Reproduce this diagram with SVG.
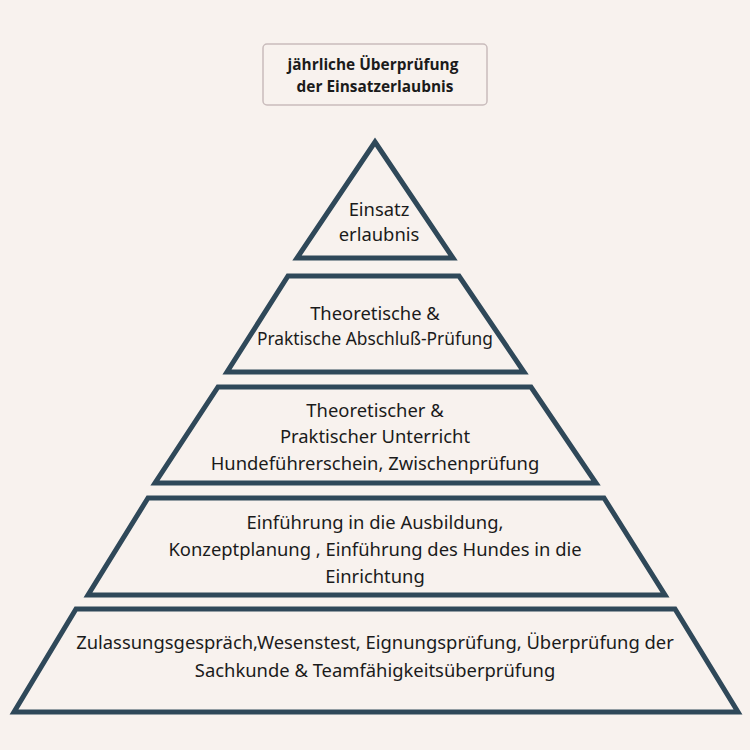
<svg xmlns="http://www.w3.org/2000/svg" width="750" height="750" viewBox="0 0 750 750">
<style>
.bg{fill:#f8f2ee}
.lvl{fill:#f8f2ee;stroke:#2f4859;stroke-width:5;stroke-linejoin:miter}
.t{font-family:"Noto Sans","Liberation Sans",sans-serif;font-size:18.4px;fill:#1b1b1b;text-anchor:middle}
.b{font-family:"Open Sans","Noto Sans",sans-serif;font-size:15.4px;font-weight:bold;fill:#1b1b1b;text-anchor:middle}
.box{fill:#f8f2ee;stroke:#c9bcbc;stroke-width:1.5}
</style>
<rect class="bg" x="0" y="0" width="750" height="750"/>
<g id="note">
<rect class="box" x="263" y="44" width="224" height="61" rx="4"/>
<text class="b" x="373" y="70">jährliche Überprüfung</text>
<text class="b" x="375" y="92">der Einsatzerlaubnis</text>
</g>
<g id="level1">
<polygon class="lvl" points="375,142 453,258 297,258"/>
<text class="t" x="379" y="216">Einsatz</text>
<text class="t" x="379" y="241">erlaubnis</text>
</g>
<g id="level2">
<polygon class="lvl" points="288,276 459,276 524,372 227,372"/>
<text class="t" x="375" y="320">Theoretische &amp;</text>
<text class="t" x="375" y="345" textLength="236" lengthAdjust="spacingAndGlyphs">Praktische Abschluß-Prüfung</text>
</g>
<g id="level3">
<polygon class="lvl" points="218,387 531,387 596,483 155,483"/>
<text class="t" x="375" y="417">Theoretischer &amp;</text>
<text class="t" x="375" y="443">Praktischer Unterricht</text>
<text class="t" x="375" y="470">Hundeführerschein, Zwischenprüfung</text>
</g>
<g id="level4">
<polygon class="lvl" points="148,498 604,498 665,595 88,595"/>
<text class="t" x="375" y="529">Einführung in die Ausbildung,</text>
<text class="t" x="375" y="556">Konzeptplanung , Einführung des Hundes in die</text>
<text class="t" x="375" y="583">Einrichtung</text>
</g>
<g id="level5">
<polygon class="lvl" points="76,609 675,609 738,712 14,712"/>
<text class="t" x="375" y="649">Zulassungsgespräch,Wesenstest, Eignungsprüfung, Überprüfung der</text>
<text class="t" x="375" y="677">Sachkunde &amp; Teamfähigkeitsüberprüfung</text>
</g>
<g id="connectors"/>
</svg>
